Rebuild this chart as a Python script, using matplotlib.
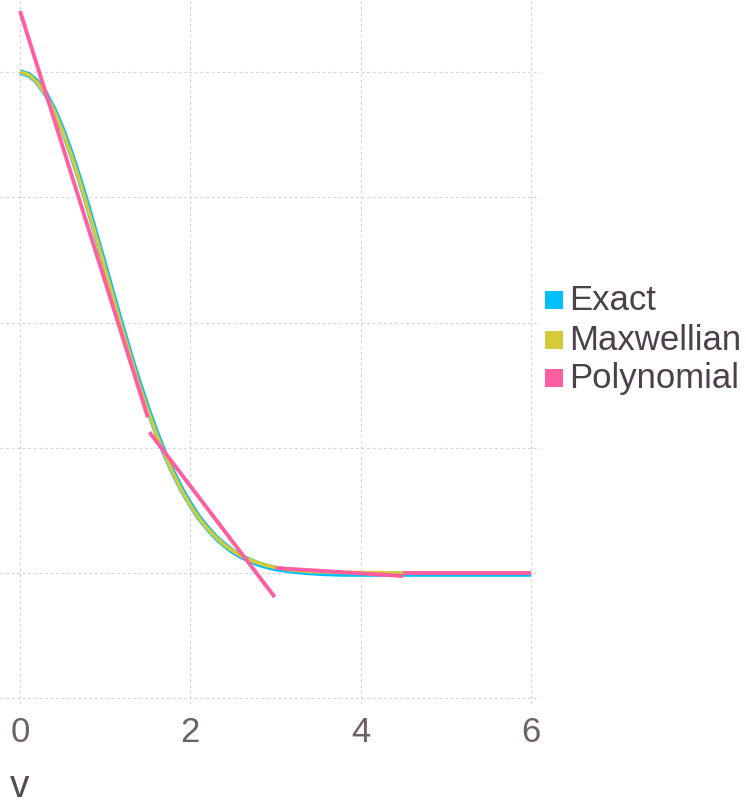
import matplotlib.pyplot as plt
from matplotlib.patches import Rectangle

# Data
v = [0.0, 0.1, 0.2, 0.3, 0.4, 0.5, 0.6, 0.7, 0.8, 0.9, 1.0, 1.1, 1.2, 1.3, 1.4,
     1.5, 1.6, 1.7, 1.8, 1.9, 2.0, 2.1, 2.2, 2.3, 2.4, 2.5, 2.6, 2.7, 2.8, 2.9,
     3.0, 3.2, 3.4, 3.6, 3.8, 4.0, 4.5, 5.0, 5.5, 6.0]
exact = [1.0, 0.995, 0.981, 0.957, 0.925, 0.885, 0.838, 0.786, 0.730, 0.670,
         0.611, 0.550, 0.491, 0.433, 0.379, 0.328, 0.281, 0.238, 0.200, 0.166,
         0.137, 0.111, 0.090, 0.071, 0.056, 0.043, 0.033, 0.025, 0.018, 0.013,
         0.009, 0.004, 0.001, -0.001, -0.002, -0.002, -0.002, -0.002, -0.002, -0.002]
maxwellian = [1.0, 0.995, 0.980, 0.956, 0.923, 0.882, 0.835, 0.783, 0.726, 0.667,
              0.607, 0.546, 0.487, 0.430, 0.375, 0.325, 0.278, 0.236, 0.198, 0.164,
              0.135, 0.110, 0.089, 0.071, 0.056, 0.044, 0.034, 0.026, 0.020, 0.015,
              0.011, 0.006, 0.003, 0.002, 0.001, 0.001, 0.000, 0.000, 0.000, 0.000]

# Polynomial: piecewise linear segments
poly_segments = [
    ([0.0, 1.5], [1.122, 0.311]),
    ([1.52, 2.99], [0.281, -0.048]),
    ([3.0, 4.5], [0.010, -0.006]),
    ([4.5, 6.0], [0.0, 0.0]),
]

xticks = [0, 2, 4, 6]
yticks = [-0.25, 0.0, 0.25, 0.5, 0.75, 1.0]

labels = ["Exact", "Maxwellian", "Polynomial"]
colors = ["#00BFFF", "#D4CA3A", "#FF5EA0"]

plt.rcParams['font.family'] = ['Liberation Sans', 'DejaVu Sans']

fig = plt.figure(figsize=(7.46, 8.04), dpi=100)
ax = fig.add_axes([0.0, 1 - 705 / 804, 540 / 746, 705 / 804])

ax.plot(v, exact, color=colors[0], lw=4.0, solid_capstyle='butt', zorder=3)
ax.plot(v, maxwellian, color=colors[1], lw=2.6, solid_capstyle='butt', zorder=4)
for xs, ys in poly_segments:
    ax.plot(xs, ys, color=colors[2], lw=2.8, solid_capstyle='butt', zorder=5)

ax.set_xlim(-0.235, 6.105)
ax.set_ylim(-0.2615, 1.146)
ax.set_xticks(xticks)
ax.set_yticks(yticks)
ax.set_yticklabels([])
ax.tick_params(axis='x', length=0, pad=8, labelsize=25, labelcolor='#6C606B')
ax.tick_params(axis='y', length=0)
for s in ax.spines.values():
    s.set_visible(False)
ax.grid(True, color='#D4D4DE', linestyle=(0, (2.5, 2.5)), lw=0.8)
ax.set_axisbelow(True)

fig.text(20 / 746, 1 - 797 / 804, "v", fontsize=28, color='#564A55',
         ha='center', va='baseline')

# Legend
ys_leg = [301, 341, 379]
for lab, col, yp in zip(labels, colors, ys_leg):
    fig.patches.append(Rectangle((545 / 746, 1 - (yp + 9) / 804), 18 / 746, 18 / 804,
                                 transform=fig.transFigure, facecolor=col,
                                 edgecolor='none'))
    fig.text(569 / 746, 1 - yp / 804, lab, fontsize=25, color='#4C404B',
             ha='left', va='center')

fig.savefig("out.png", dpi=100)
